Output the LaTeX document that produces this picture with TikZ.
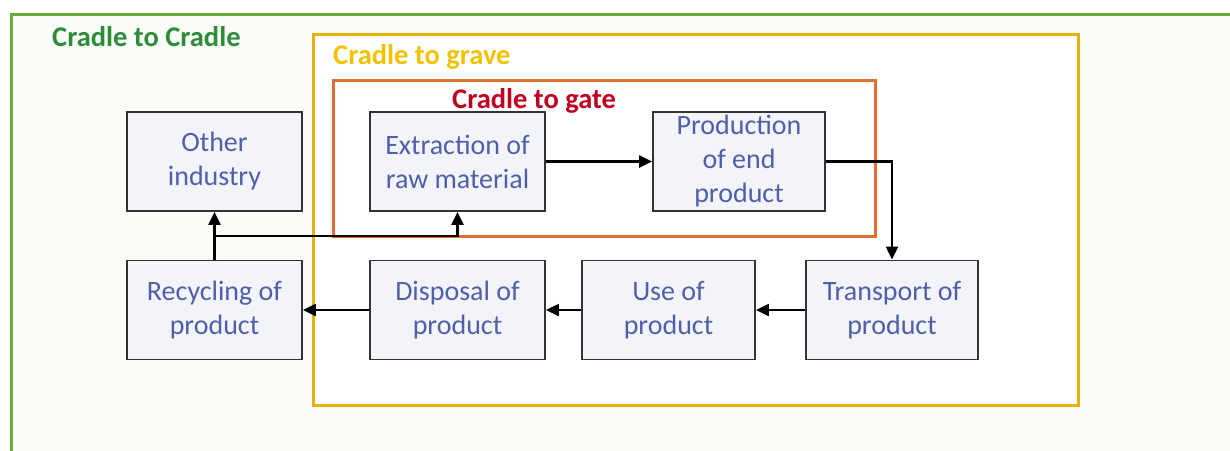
\documentclass[tikz,border=0pt]{standalone}
\usepackage{fontspec}
\setmainfont{Carlito}
\usetikzlibrary{arrows.meta}
\definecolor{frgreen}{HTML}{6AAB3C}
\definecolor{txtgreen}{HTML}{2E8B3A}
\definecolor{frgold}{HTML}{E6B000}
\definecolor{txtgold}{HTML}{F2C200}
\definecolor{frorange}{HTML}{E07030}
\definecolor{txtred}{HTML}{C00020}
\definecolor{boxtxt}{HTML}{5060A8}
\definecolor{boxline}{HTML}{333333}
\definecolor{boxfill}{HTML}{F3F4FA}
\tikzset{
  stage/.style={draw=boxline, line width=1.8pt, fill=boxfill, minimum width=175pt, minimum height=99pt,
    align=center, text=boxtxt, font=\fontsize{28}{34}\selectfont, inner sep=0pt},
  flow/.style={line width=2.2pt, -{Triangle[length=13pt,width=12pt]}},
  flowline/.style={line width=2.2pt},
  ttl/.style={anchor=west, font=\fontsize{28.5}{30}\selectfont\bfseries, inner sep=0pt}
}
\begin{document}
\begin{tikzpicture}[x=1pt,y=-1pt]
\useasboundingbox (0,0) rectangle (1230,450);
\fill[white] (0,0) rectangle (1230,450);
\clip (0,0) rectangle (1230,450);
% frames
\draw[frgreen, line width=3pt, fill=frgreen!4] (11,14) rectangle (1250,470);
\draw[frgold, line width=3pt, fill=white] (313,34) rectangle (1078,405);
\draw[frorange, line width=3pt] (333,80) rectangle (875,236);
\node[ttl, text=txtgreen] (tcc) at (52,37) {Cradle to Cradle};
\node[ttl, text=txtgold] (tgr) at (333,57) {Cradle to grave};
\node[ttl, text=txtred] (tga) at (452,101) {Cradle to gate};
% stages
\node[stage] (other) at (214.5,161.5) {Other\\industry};
\node[stage] (extr) at (457.5,161.5) {Extraction of\\raw material};
\node[stage, minimum width=172pt] (prod) at (739,161.5) {Production\\of end\\product};
\node[stage] (recy) at (214.5,310) {Recycling of\\product};
\node[stage] (disp) at (457.5,310) {Disposal of\\product};
\node[stage, minimum width=173pt] (use) at (668.5,310) {Use of\\product};
\node[stage, minimum width=172pt] (trans) at (892,310) {Transport of\\product};
% connectors
\coordinate (j) at (214.5,236);
\draw[flow] (extr.east) -- (prod.west);
\draw[flow] (prod.east) -| (trans.north);
\draw[flow] (trans.west) -- (use.east);
\draw[flow] (use.west) -- (disp.east);
\draw[flow] (disp.west) -- (recy.east);
\draw[flowline] (recy.north) -- (j);
\draw[flow] (j) -- (other.south);
\draw[flow] (j) -| (extr.south);
\end{tikzpicture}
\end{document}
